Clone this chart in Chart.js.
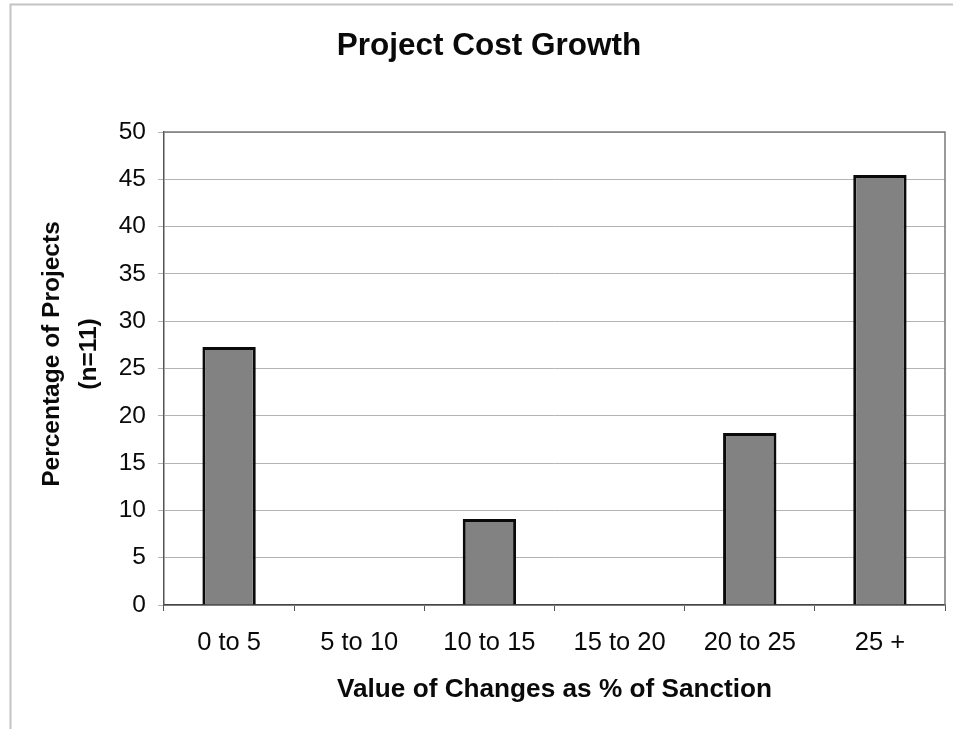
<!DOCTYPE html>
<html>
<head>
<meta charset="utf-8">
<title>Project Cost Growth</title>
<script src="https://cdn.jsdelivr.net/npm/chart.js@4.4.1/dist/chart.umd.min.js"></script>
<style>
  html, body { margin: 0; padding: 0; background: #ffffff; }
  #wrap { position: relative; width: 953px; height: 729px; }
  canvas { display: block; }
</style>
</head>
<body>
<div id="wrap"><canvas id="c" width="953" height="729"></canvas></div>
<script>
// Cost-growth bins and share of projects in each (n = 11)
const categories = ['0 to 5', '5 to 10', '10 to 15', '15 to 20', '20 to 25', '25 +'];
const percentOfProjects = [27.27, 0, 9.09, 0, 18.18, 45.45];
const yTicks = [0, 5, 10, 15, 20, 25, 30, 35, 40, 45, 50];

const chartTitle = 'Project Cost Growth';
const yTitleLines = ['Percentage of Projects', '(n=11)'];
const xTitle = 'Value of Changes as % of Sanction';

const FONT = '"Liberation Sans", Arial, Helvetica, sans-serif';

// Page frame, chart title, y-axis title and plot-area outline
const decorations = {
  id: 'decorations',
  beforeDraw(chart) {
    const ctx = chart.ctx;
    ctx.save();
    ctx.fillStyle = '#ffffff';
    ctx.fillRect(0, 0, chart.width, chart.height);
    ctx.strokeStyle = '#c4c4c4';
    ctx.lineWidth = 2;
    ctx.beginPath();
    ctx.moveTo(10.5, chart.height);
    ctx.lineTo(10.5, 4.5);
    ctx.lineTo(chart.width, 4.5);
    ctx.stroke();
    ctx.restore();
  },
  afterDraw(chart) {
    const ctx = chart.ctx;
    const a = chart.chartArea;
    ctx.save();
    // top and right edges of the plot area
    ctx.strokeStyle = '#7a7a7a';
    ctx.lineWidth = 1.5;
    ctx.beginPath();
    ctx.moveTo(a.left, a.top);
    ctx.lineTo(a.right, a.top);
    ctx.lineTo(a.right, a.bottom);
    ctx.stroke();

    // chart title
    ctx.fillStyle = '#0a0a0a';
    ctx.font = 'bold 31.5px ' + FONT;
    ctx.textAlign = 'center';
    ctx.textBaseline = 'middle';
    ctx.fillText(chartTitle, 489, 46);

    // two-line y-axis title
    ctx.font = 'bold 24.5px ' + FONT;
    const xs = [52, 89];
    yTitleLines.forEach((line, i) => {
      ctx.save();
      ctx.translate(xs[i], 354);
      ctx.rotate(-Math.PI / 2);
      ctx.fillText(line, 0, 0);
      ctx.restore();
    });
    ctx.restore();
  }
};

new Chart(document.getElementById('c'), {
  type: 'bar',
  data: {
    labels: categories,
    datasets: [{
      label: 'Percentage of Projects',
      data: percentOfProjects,
      backgroundColor: '#828282',
      borderColor: '#0a0a0a',
      borderWidth: 3,
      barPercentage: 0.41,
      categoryPercentage: 1.0
    }]
  },
  options: {
    responsive: false,
    animation: false,
    devicePixelRatio: 1,
    layout: { padding: { top: 132, right: 8, left: 0, bottom: 0 } },
    plugins: {
      legend: { display: false },
      title: { display: false },
      tooltip: { enabled: false }
    },
    scales: {
      x: {
        offset: true,
        grid: {
          display: true,
          offset: true,
          drawOnChartArea: false,
          drawTicks: true,
          tickLength: 6,
          color: '#555555',
          lineWidth: 1
        },
        border: { display: true, color: '#444444', width: 1.5 },
        ticks: {
          color: '#0a0a0a',
          font: { family: FONT, size: 25.5 },
          padding: 17,
          maxRotation: 0
        },
        title: {
          display: true,
          text: xTitle,
          color: '#0a0a0a',
          font: { family: FONT, size: 26.2, weight: 'bold' },
          padding: { top: 4, bottom: 24 }
        },
        afterFit(scale) { scale.height = 124; }
      },
      y: {
        min: 0,
        max: 50,
        afterBuildTicks(scale) { scale.ticks = yTicks.map(v => ({ value: v })); },
        grid: {
          color: '#b4b4b4',
          lineWidth: 1,
          drawTicks: true,
          tickLength: 6
        },
        border: { display: true, color: '#555555', width: 1.5 },
        ticks: {
          color: '#0a0a0a',
          font: { family: FONT, size: 24.5 },
          padding: 12
        },
        afterFit(scale) { scale.width = 164; }
      }
    }
  },
  plugins: [decorations]
});
</script>
</body>
</html>
